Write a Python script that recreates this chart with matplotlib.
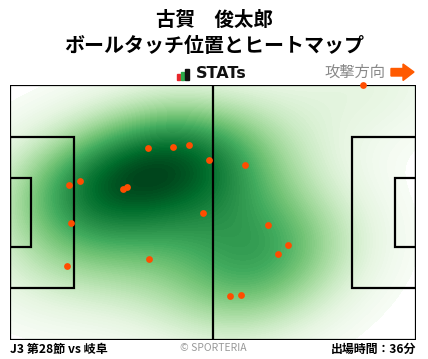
import numpy as np
import matplotlib.pyplot as plt
from matplotlib.patches import Rectangle, Polygon

plt.rcParams['font.family'] = ['Noto Sans CJK JP', 'DejaVu Sans']

# ball touch positions (metres, attacking to the right)
touch_x = [35.8, 42.2, 46.4, 51.5, 18.2, 15.3, 30.3, 29.3, 50.0, 91.4,
           60.9, 15.8, 14.8, 36.0, 66.8, 72.0, 69.4, 57.0, 59.8]
touch_y = [51.0, 51.3, 51.8, 47.8, 42.2, 41.2, 40.6, 40.1, 33.7, 67.9,
           46.5, 31.1, 19.6, 21.5, 30.5, 25.2, 22.8, 11.6, 11.9]

player = "古賀　俊太郎"
title2 = "ボールタッチ位置とヒートマップ"
match_info = "J3 第28節 vs 岐阜"
play_time = "出場時間：36分"

L, W = 105.0, 68.0
W_PX, H_PX = 428, 359

fig = plt.figure(figsize=(W_PX / 100, H_PX / 100), dpi=100)
fig.patch.set_facecolor('white')

def fy(py):
    return 1 - py / H_PX

ax = fig.add_axes([10 / W_PX, 19 / H_PX, 406 / W_PX, 255.5 / H_PX])

# heatmap: gaussian kde of the touches
xs = np.array(touch_x)
ys = np.array(touch_y)
gx, gy = np.meshgrid(np.linspace(0, L, 320), np.linspace(0, W, 210))
cov = np.cov(np.vstack([xs, ys])) * (len(xs) ** (-1 / 3)) * 1.5
inv = np.linalg.inv(cov)
dens = np.zeros_like(gx)
for x, y in zip(xs, ys):
    dx = gx - x
    dy = gy - y
    dens += np.exp(-0.5 * (inv[0, 0] * dx * dx + 2 * inv[0, 1] * dx * dy + inv[1, 1] * dy * dy))
dens /= dens.max()
ax.contourf(gx, gy, dens, levels=np.linspace(0.04, 1.0, 80), cmap='Greens', extend='max')

# pitch lines
lc = 'black'
lw = 1.6
ax.add_patch(Rectangle((0, 0), L, W, fill=False, ec=lc, lw=lw, zorder=3))
ax.plot([L / 2, L / 2], [0, W], color=lc, lw=lw, zorder=3)
box_w, box_h = 16.5, 40.32
six_w, six_h = 5.5, 18.32
ax.add_patch(Rectangle((0, (W - box_h) / 2), box_w, box_h, fill=False, ec=lc, lw=lw, zorder=3))
ax.add_patch(Rectangle((L - box_w, (W - box_h) / 2), box_w, box_h, fill=False, ec=lc, lw=lw, zorder=3))
ax.add_patch(Rectangle((0, (W - six_h) / 2), six_w, six_h, fill=False, ec=lc, lw=lw, zorder=3))
ax.add_patch(Rectangle((L - six_w, (W - six_h) / 2), six_w, six_h, fill=False, ec=lc, lw=lw, zorder=3))

ax.scatter(xs, ys, s=24, color='#ff4d00', zorder=4, clip_on=False, linewidths=0)

ax.set_xlim(0, L)
ax.set_ylim(0, W)
ax.axis('off')

# header
fig.text(0.5, fy(20), player, ha='center', va='center', fontsize=14, fontweight='bold')
fig.text(0.5, fy(45), title2, ha='center', va='center', fontsize=14.4, fontweight='bold')

# STATs logo
for x0, h, c in [(177, 5.5, '#e8262b'), (181, 7, '#2aa84a'), (185.3, 11, '#111111')]:
    fig.patches.append(Rectangle((x0 / W_PX, fy(79.5)), 3.3 / W_PX, h / H_PX,
                                 transform=fig.transFigure, color=c))
fig.text(196 / W_PX, fy(74), "STATs", ha='left', va='center', fontsize=11.5,
         fontweight='bold', family='DejaVu Sans', color='#111111')

fig.text(385 / W_PX, fy(72), "攻撃方向", ha='right', va='center', fontsize=11, color='#888888')
arrow = [(391, 68.5), (403, 68.5), (403, 64), (414, 72), (403, 80.5), (403, 76), (391, 76)]
fig.patches.append(Polygon([(x / W_PX, fy(y)) for x, y in arrow], closed=True,
                           transform=fig.transFigure, color='#ff5a00'))

# footer
fig.text(10 / W_PX, fy(349), match_info, ha='left', va='center', fontsize=8.7, fontweight='bold')
fig.text(213 / W_PX, fy(348), "© SPORTERIA", ha='center', va='center', fontsize=7.5, color='#999999')
fig.text(416 / W_PX, fy(349), play_time, ha='right', va='center', fontsize=8.6, fontweight='bold')

fig.savefig('out.png', dpi=100)
